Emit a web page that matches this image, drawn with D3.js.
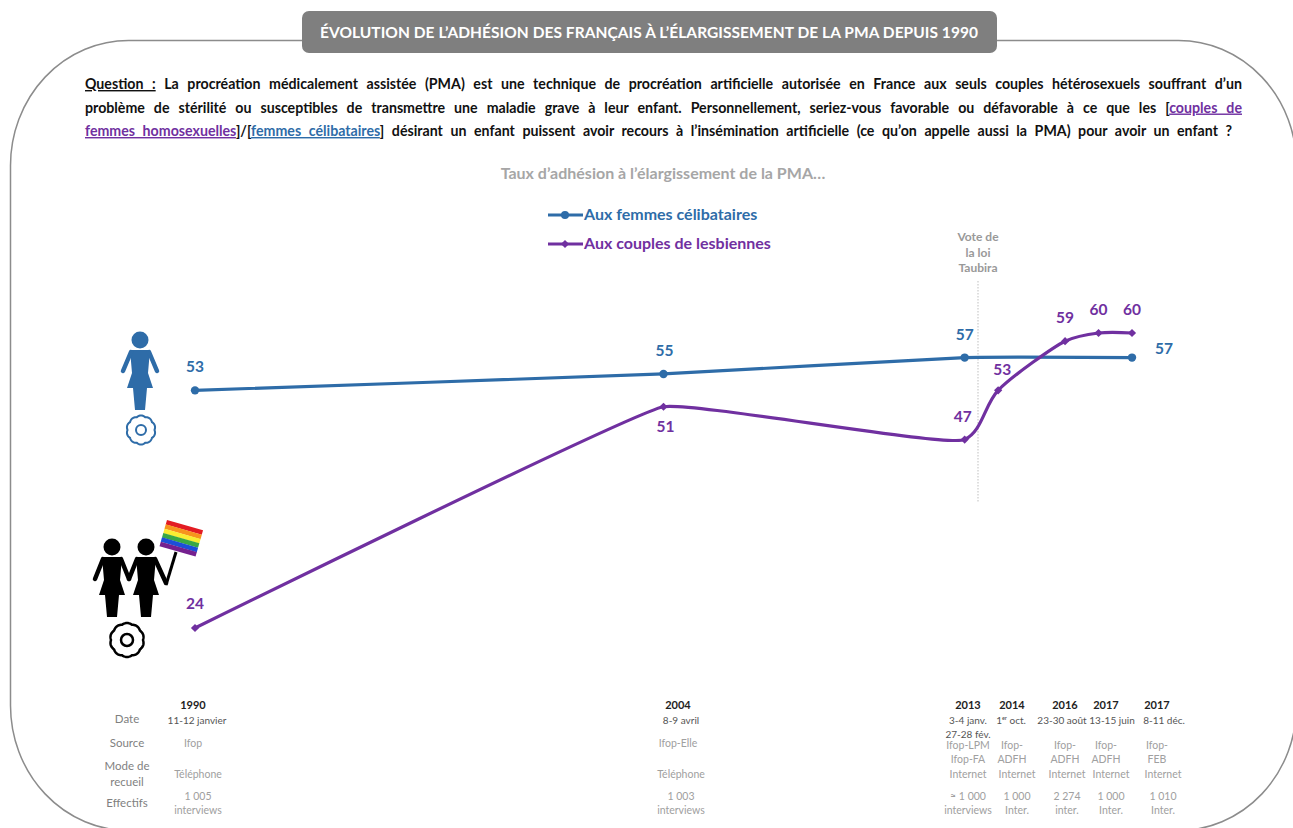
<!DOCTYPE html>
<html>
<head>
<meta charset="utf-8">
<script src="https://cdn.jsdelivr.net/npm/d3@7"></script>
<style>
    body { margin: 0; background: #fff; }
    svg { display: block; }
    text { font-family: Lato, "Open Sans", sans-serif; }
</style>
</head>
<body>
<div id="chart"></div>
<script>
const width = 1293,
    height = 828;

const blue = "#2e6ca8",
    purple = "#7030a0";

// position of each survey on the time line (last 2017 wave sits one step further)
const surveyPositions = [1990, 2004, 2013, 2014, 2016, 2017, 2018];
const surveyYears = ["1990", "2004", "2013", "2014", "2016", "2017", "2017"];
const celibataires = [53, 55, 57, null, null, null, 57];
const lesbiennes = [24, 51, 47, 53, 59, 60, 60];

const rowNames = ["Date", "Source", "Mode de|recueil", "Effectifs"];
const dates = ["11-12 janvier", "8-9 avril", "3-4 janv.|27-28 fév.", "1ᵉʳ oct.", "23-30 août", "13-15 juin", "8-11 déc."];
const sources = ["Ifop", "Ifop-Elle", "Ifop-LPM|Ifop-FA", "Ifop-|ADFH", "Ifop-|ADFH", "Ifop-|ADFH", "Ifop-|FEB"];
const modes = ["Téléphone", "Téléphone", "Internet", "Internet", "Internet", "Internet", "Internet"];
const effectifs = ["1 005|interviews", "1 003|interviews", "≈ 1 000|interviews", "1 000|Inter.", "2 274|inter.", "1 000|Inter.", "1 010|Inter."];

// table columns are not lined up on the time line
const yearColumns = [193, 678, 968, 1012, 1065, 1106, 1157];
const dateColumns = [197, 681, 968, 1011, 1062, 1112, 1164];
const detailColumns = [198, 681, 968, 1017, 1067, 1111, 1163];

const questionLines = [
    [["Question :", "#111", true], [" La procréation médicalement assistée (PMA) est une technique de procréation artificielle autorisée en France aux seuls couples hétérosexuels souffrant d’un", "#111", false]],
    [["problème de stérilité ou susceptibles de transmettre une maladie grave à leur enfant. Personnellement, seriez-vous favorable ou défavorable à ce que les [", "#111", false], ["couples de", purple, true]],
    [["femmes homosexuelles", purple, true], ["]/[", "#111", false], ["femmes célibataires", blue, true], ["] désirant un enfant puissent avoir recours à l’insémination artificielle (ce qu’on appelle aussi la PMA) pour avoir un enfant ?", "#111", false]]
];
const rainbow = ["#e31c23", "#f7941d", "#f9ed32", "#39a845", "#1c4fd8", "#75208f"];

const svg = d3
    .select("#chart")
    .append("svg")
    .attr("width", width)
    .attr("height", height);

const xScale = d3.scaleLinear().domain([1990, 2018]).range([195, 1132]);
const yScale = d3.scaleLinear().domain([24, 60]).range([628, 333]);

// Frame, it runs off the right and bottom of the picture
svg.append("rect")
    .attr("x", 10.5)
    .attr("y", 40.5)
    .attr("width", 1286)
    .attr("height", 790)
    .attr("rx", 118)
    .attr("ry", 125)
    .attr("fill", "none")
    .attr("stroke", "#8c8c8c")
    .attr("stroke-width", 1.5);

// Title banner
svg.append("rect")
    .attr("x", 302)
    .attr("y", 11)
    .attr("width", 695)
    .attr("height", 42)
    .attr("rx", 7)
    .attr("fill", "#7f7f7f");
svg.append("text")
    .attr("x", 649)
    .attr("y", 38)
    .attr("text-anchor", "middle")
    .attr("fill", "#fff")
    .attr("font-weight", 700)
    .attr("font-size", 15.5)
    .attr("textLength", 658)
    .text("ÉVOLUTION DE L’ADHÉSION DES FRANÇAIS À L’ÉLARGISSEMENT DE LA PMA DEPUIS 1990");

// Question, each line justified through the word spacing
const lineEnds = [1242, 1242, 1232];
questionLines.forEach((parts, i) => {
    const line = svg.append("text")
        .attr("x", 85)
        .attr("y", 89 + i * 23.5)
        .attr("font-size", 14.2)
        .attr("font-weight", 700);
    parts.forEach((p) => {
        line.append("tspan")
            .attr("fill", p[1])
            .attr("text-decoration", p[2] ? "underline" : null)
            .text(p[0]);
    });
    const spaces = parts.map((p) => p[0]).join("").split(" ").length - 1;
    const natural = line.node().getComputedTextLength();
    line.style("word-spacing", (lineEnds[i] - 85 - natural) / spaces + "px");
});

// Chart title
svg.append("text")
    .attr("x", 663)
    .attr("y", 179)
    .attr("text-anchor", "middle")
    .attr("fill", "#a6a6a6")
    .attr("font-weight", 700)
    .attr("font-size", 16)
    .text("Taux d’adhésion à l’élargissement de la PMA…");

const diamond = d3.symbol().type(d3.symbolSquare).size(34);

// Legend
const legend = svg.append("g");
[["Aux femmes célibataires", blue, 215, true], ["Aux couples de lesbiennes", purple, 244, false]].forEach((l) => {
    legend.append("line")
        .attr("x1", 548).attr("x2", 583)
        .attr("y1", l[2]).attr("y2", l[2])
        .attr("stroke", l[1]).attr("stroke-width", 3);
    if (l[3]) {
        legend.append("circle")
            .attr("cx", 565).attr("cy", l[2]).attr("r", 4)
            .attr("fill", l[1]);
    } else {
        legend.append("path")
            .attr("d", diamond())
            .attr("transform", "translate(565," + l[2] + ") rotate(45)")
            .attr("fill", l[1]);
    }
    legend.append("text")
        .attr("x", 584).attr("y", l[2] + 5)
        .attr("fill", l[1])
        .attr("font-weight", 700)
        .attr("font-size", 16)
        .text(l[0]);
});

// Taubira marker
svg.append("line")
    .attr("x1", 978).attr("x2", 978)
    .attr("y1", 281).attr("y2", 502)
    .attr("stroke", "#bfbfbf")
    .attr("stroke-dasharray", "1.5 1.5");
["Vote de", "la loi", "Taubira"].forEach((t, i) => {
    svg.append("text")
        .attr("x", 978).attr("y", 241 + i * 15.5)
        .attr("text-anchor", "middle")
        .attr("fill", "#999")
        .attr("font-weight", 700)
        .attr("font-size", 12)
        .text(t);
});

// Smoothing like the office charts: tangent between the two chords, short handles
function officeCurve(context) {
    let pts;
    return {
        areaStart() {},
        areaEnd() {},
        lineStart() {
            pts = [];
        },
        point(x, y) {
            pts.push([+x, +y]);
        },
        lineEnd() {
            const dist = (a, b) => Math.hypot(b[0] - a[0], b[1] - a[1]);
            const handle = (i, side) => {
                const p = pts[i],
                    prev = pts[i - 1],
                    next = pts[i + 1];
                if (!prev || !next) return p;
                const d1 = dist(prev, p),
                    d2 = dist(p, next);
                const tx = (p[0] - prev[0]) / d1 + (next[0] - p[0]) / d2,
                    ty = (p[1] - prev[1]) / d1 + (next[1] - p[1]) / d2;
                const t = Math.hypot(tx, ty);
                const len = Math.min(30, 0.33 * Math.min(d1, d2));
                return [p[0] + (side * len * tx) / t, p[1] + (side * len * ty) / t];
            };
            context.moveTo(pts[0][0], pts[0][1]);
            for (let i = 0; i < pts.length - 1; i++) {
                const c1 = handle(i, 1),
                    c2 = handle(i + 1, -1);
                context.bezierCurveTo(c1[0], c1[1], c2[0], c2[1], pts[i + 1][0], pts[i + 1][1]);
            }
        }
    };
}

const line = d3.line()
    .x((d) => xScale(d.x))
    .y((d) => yScale(d.v))
    .curve(officeCurve);

function seriesPoints(values) {
    return values
        .map((v, i) => ({ x: surveyPositions[i], v: v }))
        .filter((d) => d.v !== null);
}

const bluePts = seriesPoints(celibataires);
svg.append("path")
    .datum(bluePts)
    .attr("d", line)
    .attr("fill", "none")
    .attr("stroke", blue)
    .attr("stroke-width", 3.2);
svg.append("g")
    .selectAll("circle")
    .data(bluePts)
    .enter()
    .append("circle")
    .attr("cx", (d) => xScale(d.x))
    .attr("cy", (d) => yScale(d.v))
    .attr("r", 4.2)
    .attr("fill", blue);

const purplePts = seriesPoints(lesbiennes);
svg.append("path")
    .datum(purplePts)
    .attr("d", line)
    .attr("fill", "none")
    .attr("stroke", purple)
    .attr("stroke-width", 3.2);
svg.append("g")
    .selectAll("path")
    .data(purplePts)
    .enter()
    .append("path")
    .attr("d", diamond())
    .attr("transform", (d) => "translate(" + xScale(d.x) + "," + yScale(d.v) + ") rotate(45)")
    .attr("fill", purple);

// Value labels: [dx, dy] from the point
const blueOffsets = [[0, -18], [1, -18], [0, -18], null, null, null, [32, -4]];
const purpleOffsets = [[0, -19], [2, 25], [-2, -18], [4, -15], [0, -18], [0, -18], [0, -18]];
function drawLabels(values, offsets, colour) {
    values.forEach((v, i) => {
        if (v === null) return;
        svg.append("text")
            .attr("x", xScale(surveyPositions[i]) + offsets[i][0])
            .attr("y", yScale(v) + offsets[i][1])
            .attr("text-anchor", "middle")
            .attr("fill", colour)
            .attr("font-weight", 700)
            .attr("font-size", 15.5)
            .text(v);
    });
}
drawLabels(celibataires, blueOffsets, blue);
drawLabels(lesbiennes, purpleOffsets, purple);

// Icons
function woman(x, y, colour) {
    const g = svg.append("g")
        .attr("transform", "translate(" + x + "," + y + ")")
        .attr("fill", colour);
    g.append("circle").attr("cx", 0).attr("cy", 9).attr("r", 8.5);
    g.append("path").attr("d", "M-10 19 L10 19 L8 42 L13 57 L7 57 L5 79 L-5 79 L-7 57 L-13 57 L-8 42 Z");
    return g;
}
function arm(x1, y1, x2, y2, colour) {
    svg.append("line")
        .attr("x1", x1).attr("y1", y1)
        .attr("x2", x2).attr("y2", y2)
        .attr("stroke", colour)
        .attr("stroke-width", 4.5)
        .attr("stroke-linecap", "round");
}
function rosette(x, y, r, inner, stroke, colour) {
    const points = d3.range(0, 100).map((i) => {
        const a = (i / 100) * 2 * Math.PI;
        const rr = r + 1 * Math.abs(Math.sin(a * 5));
        return [x + rr * Math.cos(a), y + rr * Math.sin(a)];
    });
    svg.append("path")
        .attr("d", d3.line().curve(d3.curveLinearClosed)(points))
        .attr("fill", "none")
        .attr("stroke", colour)
        .attr("stroke-width", stroke);
    svg.append("circle")
        .attr("cx", x).attr("cy", y).attr("r", inner)
        .attr("fill", "none")
        .attr("stroke", colour)
        .attr("stroke-width", stroke);
}
woman(140, 331, blue);
arm(131, 352, 123, 371, blue);
arm(149, 352, 157, 371, blue);
rosette(141, 430, 13.5, 5, 2, blue);

woman(112, 538, "#000");
arm(103, 559, 95, 579, "#000");
arm(121, 559, 129, 579, "#000");
woman(146, 538, "#000");
arm(137, 559, 129, 579, "#000");
arm(155, 559, 166, 583, "#000");
rosette(127, 640, 16, 6, 2.5, "#000");

// pole and flag
svg.append("line")
    .attr("x1", 176).attr("y1", 552)
    .attr("x2", 166).attr("y2", 585)
    .attr("stroke", "#000").attr("stroke-width", 3);
const flag = svg.append("g").attr("transform", "translate(167,520) rotate(16)");
rainbow.forEach((c, i) => {
    flag.append("rect")
        .attr("x", 0).attr("y", i * 4.5)
        .attr("width", 37.5).attr("height", 4.7)
        .attr("fill", c);
});

// Table under the chart
const rowY = [723, 747, 778, 807];
rowNames.forEach((name, i) => {
    const parts = name.split("|");
    parts.forEach((t, j) => {
        svg.append("text")
            .attr("x", 127)
            .attr("y", rowY[i] + (j - (parts.length - 1) / 2) * 16)
            .attr("text-anchor", "middle")
            .attr("fill", "#7f7f7f")
            .attr("font-size", 11.5)
            .text(t);
    });
});
function tableCell(txt, x, y, step, size, colour, weight) {
    txt.split("|").forEach((t, j) => {
        svg.append("text")
            .attr("x", x)
            .attr("y", y + j * step)
            .attr("text-anchor", "middle")
            .attr("fill", colour)
            .attr("font-weight", weight)
            .attr("font-size", size)
            .text(t);
    });
}
surveyYears.forEach((y, i) => {
    tableCell(y, yearColumns[i], 709, 0, 11, "#222", 700);
    tableCell(dates[i], dateColumns[i], 724, 13.5, 10, "#555", 400);
    tableCell(sources[i], yearColumns[i], sources[i].includes("|") ? 749 : 747, 14, 10.5, "#a0a0a0", 400);
    tableCell(modes[i], detailColumns[i], 778, 0, 10.5, "#a0a0a0", 400);
    tableCell(effectifs[i], detailColumns[i], 800, 14, 10.5, "#a0a0a0", 400);
});
</script>
</body>
</html>
